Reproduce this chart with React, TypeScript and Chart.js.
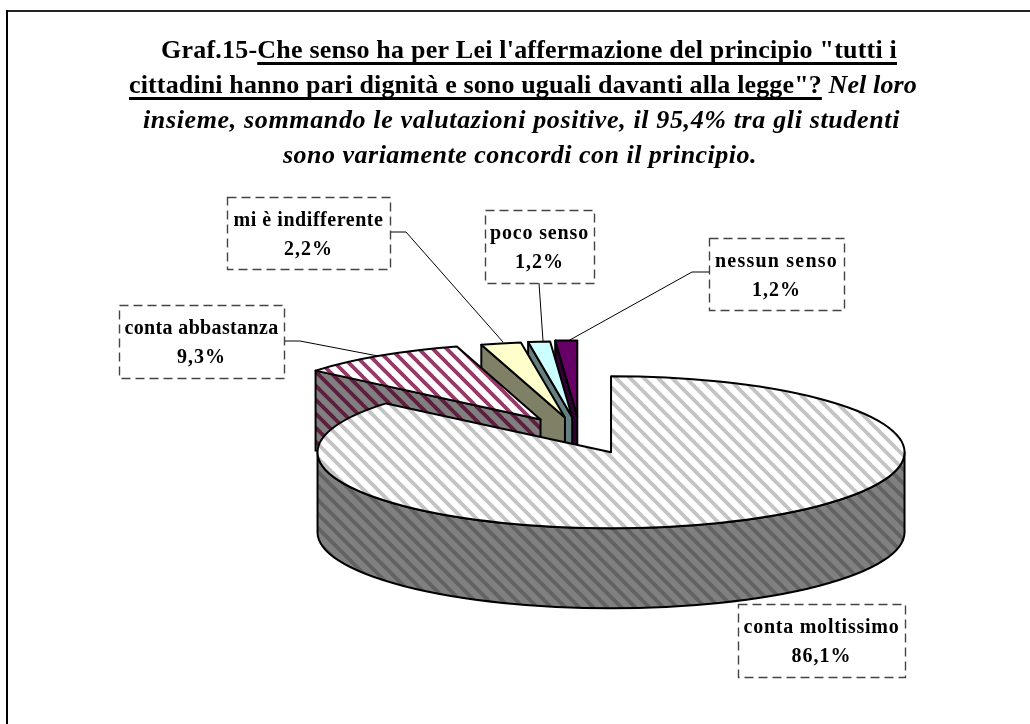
import React, { useEffect, useRef } from "react";
import { Chart, registerables, PieController } from "chart.js";

const categories = ["conta moltissimo", "conta abbastanza", "mi è indifferente", "poco senso", "nessun senso"];
const shares = [86.1, 9.3, 2.2, 1.2, 1.2];
const explode = [0.25, 0.245, 0.235, 0.235, 0.245];

const titleLines = [
  [{ t: "Graf.15-", s: "bold" }, { t: "Che senso ha per Lei l'affermazione del principio \"tutti i", s: "bold", u: true }],
  [{ t: "cittadini hanno pari dignità e sono uguali davanti alla legge\"?", s: "bold", u: true }, { t: " Nel loro", s: "italic bold" }],
  [{ t: "insieme, sommando le valutazioni positive, il 95,4% tra gli studenti", s: "italic bold" }],
  [{ t: "sono variamente concordi con il principio.", s: "italic bold" }],
];
const titleBaselines = [58, 93, 128, 163];
const titleSpans = [[161, 897], [129, 917], [143, 900], [283, 757]];

const FONT = '"Liberation Serif", "Times New Roman", serif';
const view = { rx: 293.5, ry: 76, depth: 80 };

// label boxes by category index: left, top, right, bottom, text width, and leader line vertices
const labelBoxes = [
  { l: 738, t: 604, r: 905, b: 677, w: 156, leader: [] as number[][] },
  { l: 119, t: 305, r: 284, b: 378, w: 154, leader: [[284, 341], [300, 341], [378, 356]] },
  { l: 227, t: 197, r: 390, b: 269, w: 150, leader: [[390, 232], [406, 232], [503, 342]] },
  { l: 485, t: 210, r: 594, b: 283, w: 99, leader: [[539, 283], [543, 341]] },
  { l: 709, t: 238, r: 844, b: 310, w: 123, leader: [[709, 272], [692, 272], [568, 341]] },
];

function hatch(bg: string, fg: string) {
  const P = 14;
  const c = document.createElement("canvas");
  c.width = P;
  c.height = P;
  const x = c.getContext("2d")!;
  x.fillStyle = bg;
  x.fillRect(0, 0, P, P);
  x.strokeStyle = fg;
  x.lineWidth = 3.8;
  for (const d of [-P, 0, P]) {
    x.beginPath();
    x.moveTo(d - 2, -2);
    x.lineTo(d + P + 2, P + 2);
    x.stroke();
  }
  return x.createPattern(c, "repeat")!;
}

class Pie3DController extends PieController {
  static id = "pie3d";
  draw() {
    const ctx = this.chart.ctx;
    const arcs = this._cachedMeta.data as any[];
    const ds = this.getDataset() as any;
    const R = arcs[0].outerRadius;
    const sx = view.rx / R;
    const sy = view.ry / R;
    const { rx, ry, depth } = view;
    for (let i = arcs.length - 1; i >= 0; i--) {
      const arc = arcs[i];
      const a0 = arc.startAngle;
      const a1 = arc.endAngle;
      const mid = (a0 + a1) / 2;
      const cx = arc.x + Math.cos(mid) * ds.explode[i] * rx;
      const cy = arc.y + Math.sin(mid) * ds.explode[i] * ry;
      const px = (a: number) => cx + rx * Math.cos(a);
      const py = (a: number) => cy + ry * Math.sin(a);

      ctx.save();
      ctx.lineWidth = 2;
      ctx.lineJoin = "round";
      ctx.strokeStyle = "#000";
      const wall = ds.wallColor[i];
      if (wall.setTransform) wall.setTransform(new DOMMatrix());
      ctx.fillStyle = wall;
      const face = (a: number) => {
        ctx.beginPath();
        ctx.moveTo(cx, cy);
        ctx.lineTo(px(a), py(a));
        ctx.lineTo(px(a), py(a) + depth);
        ctx.lineTo(cx, cy + depth);
        ctx.closePath();
        ctx.fill();
        ctx.stroke();
      };
      if (Math.cos(a0) < -1e-6) face(a0);
      if (Math.cos(a1) > 1e-6) face(a1);
      const t0 = Math.max(a0, 0);
      const t1 = Math.min(a1, Math.PI);
      if (t1 > t0) {
        ctx.beginPath();
        ctx.moveTo(px(t0), py(t0));
        ctx.ellipse(cx, cy, rx, ry, 0, t0, t1);
        ctx.lineTo(px(t1), py(t1) + depth);
        ctx.ellipse(cx, cy + depth, rx, ry, 0, t1, t0, true);
        ctx.closePath();
        ctx.fill();
        ctx.stroke();
      }
      ctx.restore();

      ctx.save();
      ctx.translate(cx, cy);
      ctx.scale(sx, sy);
      ctx.translate(-arc.x, -arc.y);
      const bg = arc.options.backgroundColor;
      if (bg && bg.setTransform) bg.setTransform(ctx.getTransform().inverse());
      arc.draw(ctx);
      ctx.restore();

      ctx.save();
      ctx.lineWidth = 2;
      ctx.lineJoin = "round";
      ctx.strokeStyle = "#000";
      ctx.beginPath();
      ctx.moveTo(cx, cy);
      ctx.lineTo(px(a0), py(a0));
      ctx.ellipse(cx, cy, rx, ry, 0, a0, a1);
      ctx.closePath();
      ctx.stroke();
      ctx.restore();
    }
  }
}

const pageFrame = {
  id: "pageFrame",
  beforeDraw(chart: any) {
    const c = chart.ctx;
    c.save();
    c.fillStyle = "#fff";
    c.fillRect(0, 0, chart.width, chart.height);
    c.fillStyle = "#222";
    c.fillRect(6, 10, chart.width - 6, 2);
    c.fillStyle = "#000";
    c.fillRect(6, 10, 2, chart.height - 10);
    c.restore();
  },
};

const titleAndLabels = {
  id: "titleAndLabels",
  afterDraw(chart: any) {
    const c = chart.ctx as any;
    c.save();
    c.fillStyle = "#000";
    c.textBaseline = "alphabetic";
    c.textAlign = "left";
    titleLines.forEach((runs: any[], li) => {
      const [left, right] = titleSpans[li];
      c.letterSpacing = "0px";
      let natural = 0;
      let chars = 0;
      for (const r of runs) {
        c.font = `${r.s} 26px ${FONT}`;
        natural += c.measureText(r.t).width;
        chars += r.t.length;
      }
      const spacing = (right - left - natural) / chars;
      let x = left;
      const y = titleBaselines[li];
      for (const r of runs) {
        c.font = `${r.s} 26px ${FONT}`;
        c.letterSpacing = `${spacing}px`;
        c.fillText(r.t, x, y);
        const rw = c.measureText(r.t).width;
        if (r.u) c.fillRect(x, y + 4, rw, 3);
        x += rw;
      }
    });

    c.font = `bold 20px ${FONT}`;
    labelBoxes.forEach((b, i) => {
      c.strokeStyle = "#000";
      c.lineWidth = 1;
      c.setLineDash([]);
      if (b.leader.length) {
        c.beginPath();
        b.leader.forEach((p, k) => (k ? c.lineTo(p[0], p[1]) : c.moveTo(p[0], p[1])));
        c.stroke();
      }
      c.strokeStyle = "#444";
      c.lineWidth = 1.4;
      c.setLineDash([9, 5]);
      c.strokeRect(b.l + 0.5, b.t + 0.5, b.r - b.l, b.b - b.t);
      c.setLineDash([]);
      const mx = (b.l + b.r) / 2;
      c.textAlign = "left";
      c.letterSpacing = "0px";
      const natural = c.measureText(categories[i]).width;
      c.letterSpacing = `${(b.w - natural) / categories[i].length}px`;
      c.fillText(categories[i], mx - b.w / 2, b.t + 29);
      c.textAlign = "center";
      c.letterSpacing = "1px";
      c.fillText(shares[i].toFixed(1).replace(".", ",") + "%", mx, b.t + 58);
    });
    c.restore();
  },
};

export default function App() {
  const ref = useRef<HTMLCanvasElement>(null);
  useEffect(() => {
    Chart.register(...registerables, Pie3DController);
    const chart = new Chart(ref.current!, {
      type: "pie3d" as any,
      data: {
        labels: categories,
        datasets: [
          {
            data: shares,
            explode,
            backgroundColor: [hatch("#ffffff", "#c4c4c4"), hatch("#ffffff", "#953a68"), "#ffffcc", "#ccffff", "#660066"],
            wallColor: [hatch("#808080", "#626262"), hatch("#808080", "#5c1f3d"), "#808066", "#668080", "#330033"],
            borderWidth: 0,
            clip: false,
          } as any,
        ],
      },
      options: {
        responsive: false,
        animation: false,
        events: [],
        devicePixelRatio: 1,
        layout: { padding: { left: 160, right: 30, top: 146, bottom: 0 } },
        plugins: { legend: { display: false }, tooltip: { enabled: false }, title: { display: false } },
      } as any,
      plugins: [pageFrame, titleAndLabels],
    });
    return () => chart.destroy();
  }, []);
  return (
    <div style={{ position: "absolute", left: 0, top: 0, width: 1030, height: 724 }}>
      <canvas ref={ref} width={1030} height={724} style={{ display: "block" }} />
    </div>
  );
}
